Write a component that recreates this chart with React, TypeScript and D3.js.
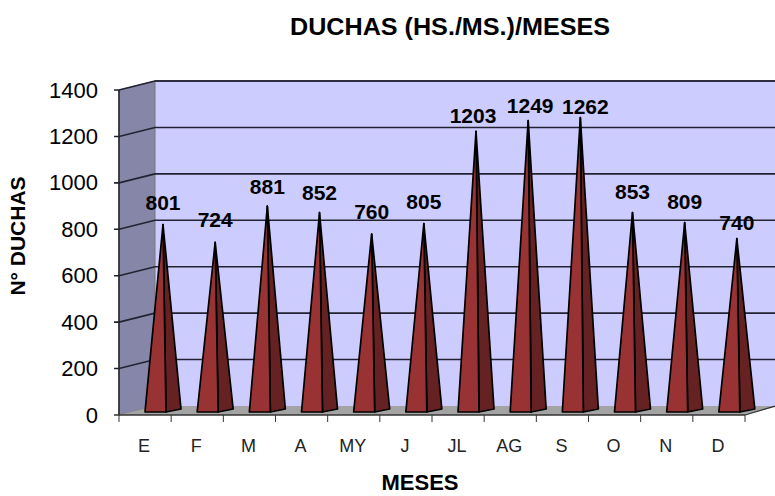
import React from "react";
import * as d3 from "d3";

const categories = ["E", "F", "M", "A", "MY", "J", "JL", "AG", "S", "O", "N", "D"];
const values = [801, 724, 881, 852, 760, 805, 1203, 1249, 1262, 853, 809, 740];
const yTicks = [0, 200, 400, 600, 800, 1000, 1200, 1400];
const title = "DUCHAS (HS./MS.)/MESES";
const xTitle = "MESES";
const yTitle = "N° DUCHAS";

const font = "'Liberation Sans', Arial, sans-serif";
const W = 775, H = 496;
const depthX = 36, depthY = -9;
const yFront = d3.scaleLinear().domain([0, 1400]).range([415, 90]);
const x = d3.scaleBand().domain(categories).range([119, 745]);
const labelY = d3.scaleLinear().domain([724, 1262]).range([219, 106]);
const labelShift = (v: number) => (v === 740 ? 7 : v === 1203 || v === 1249 ? -3 : 0);
const labelShiftX = (v: number) => (v === 1203 ? -3 : v === 1249 ? 2 : v === 1262 ? 5 : 0);

export default function App() {
  const y0 = yFront(0), yTop = yFront(1400);
  const xL = x.range()[0], xR = x.range()[1];
  const poly = (p: number[][]) => p.map((q) => q.join(",")).join(" ");
  return (
    <svg width={W} height={H} style={{ position: "absolute", left: 0, top: 0, background: "#fff" }} fontFamily={font}>
      <text x={450} y={35} textAnchor="middle" fontSize={23} fontWeight="bold" textLength={320} lengthAdjust="spacingAndGlyphs">{title}</text>
      {/* back wall */}
      <rect x={xL + depthX} y={yTop + depthY} width={W - xL - depthX} height={y0 - yTop} fill="#CCCCFF" />
      <line x1={xL + depthX} x2={W} y1={yTop + depthY} y2={yTop + depthY} stroke="#55556a" strokeWidth={2} />
      {/* side wall */}
      <polygon points={poly([[xL, yTop], [xL + depthX, yTop + depthY], [xL + depthX, y0 + depthY], [xL, y0]])} fill="#8686A8" stroke="#777" strokeWidth={1} />
      {/* floor */}
      <polygon points={poly([[xL, y0], [xL + depthX, y0 + depthY], [W, y0 + depthY], [W, y0 + depthY + 1], [xR, y0]])} fill="#A3A3A3" />
      {/* gridlines */}
      {yTicks.slice(1).map((t) => (
        <polyline key={t} points={poly([[xL - 5, yFront(t)], [xL, yFront(t)], [xL + depthX, yFront(t) + depthY], [W, yFront(t) + depthY]])} fill="none" stroke="#222233" strokeWidth={1.6} />
      ))}
      {/* axes */}
      <line x1={xL} x2={xL} y1={yTop} y2={y0} stroke="#222" strokeWidth={1.5} />
      <line x1={xL - 5} x2={xR} y1={y0} y2={y0} stroke="#333" strokeWidth={1.5} />
      <line x1={xR} x2={W} y1={y0} y2={y0 + depthY} stroke="#333" strokeWidth={1.2} />
      {yTicks.map((t) => (
        <text key={t} x={98} y={yFront(t) + 7.5} textAnchor="end" fontSize={22}>{t}</text>
      ))}
      {[...categories.map((c) => x(c)!), xR].map((px, i) => (
        <line key={i} x1={px} x2={px} y1={y0} y2={y0 + 7} stroke="#333" strokeWidth={1} />
      ))}
      {categories.map((c) => (
        <text key={c} x={x(c)! + x.bandwidth() / 2 - 1} y={452} textAnchor="middle" fontSize={18} fill="#222">{c}</text>
      ))}
      {/* pyramids */}
      {categories.map((c, i) => {
        const left = x(c)! + 26;
        const frontR = left + 21, backR = left + 36;
        const apex = [left + 18, yFront(values[i]) + depthY / 2];
        const by = 412, byBack = 409;
        return (
          <g key={c} stroke="#000" strokeWidth={1.7} strokeLinejoin="round">
            <polygon points={poly([[frontR, by], [backR, byBack], apex])} fill="#662222" />
            <polygon points={poly([[left, by], [frontR, by], apex])} fill="#993333" />
          </g>
        );
      })}
      {categories.map((c, i) => (
        <text key={c} x={x(c)! + 44 + labelShiftX(values[i])} y={labelY(values[i]) + labelShift(values[i]) + 7.5} textAnchor="middle" fontSize={21} fontWeight="bold">{values[i]}</text>
      ))}
      <text x={420} y={490} textAnchor="middle" fontSize={22} fontWeight="bold">{xTitle}</text>
      <text transform="translate(25,236) rotate(-90)" textAnchor="middle" fontSize={21} fontWeight="bold">{yTitle}</text>
    </svg>
  );
}
